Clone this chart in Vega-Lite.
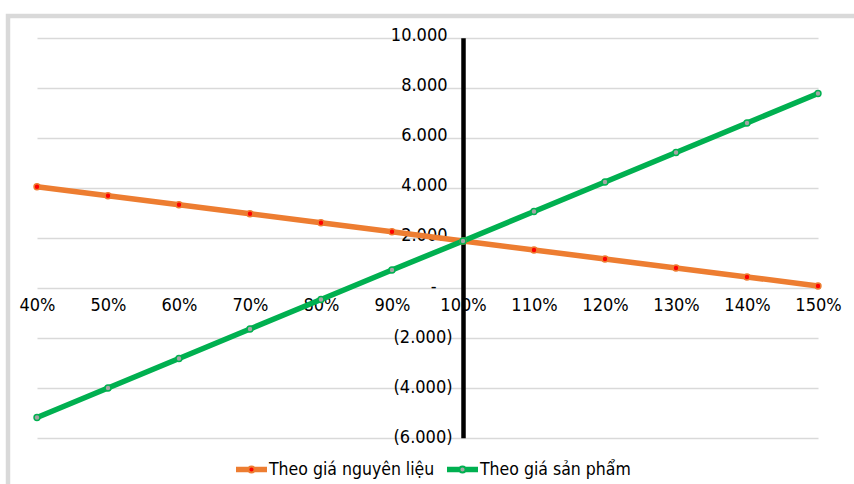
{
  "$schema": "https://vega.github.io/schema/vega-lite/v6.json",
  "width": 846,
  "height": 468,
  "autosize": {"type": "none"},
  "padding": {"left": 8, "top": 16, "right": 0, "bottom": 0},
  "background": "white",
  "config": {
    "font": "DejaVu Sans Condensed",
    "view": {"stroke": "#d9d9d9", "strokeWidth": 4.5, "strokeDash": [846, 1314, 468], "strokeCap": "square"},
    "axis": {
      "labelFont": "DejaVu Sans Condensed",
      "labelFontSize": 18,
      "labelColor": "#000000",
      "labelFlush": false,
      "labelOverlap": false,
      "ticks": false,
      "title": null,
      "gridColor": "#d9d9d9",
      "gridWidth": 1.5
    }
  },
  "data": {
    "values": [
      {"muc": 40, "series": "Theo giá nguyên liệu", "value": 4040},
      {"muc": 50, "series": "Theo giá nguyên liệu", "value": 3680},
      {"muc": 60, "series": "Theo giá nguyên liệu", "value": 3320},
      {"muc": 70, "series": "Theo giá nguyên liệu", "value": 2960},
      {"muc": 80, "series": "Theo giá nguyên liệu", "value": 2600},
      {"muc": 90, "series": "Theo giá nguyên liệu", "value": 2240},
      {"muc": 100, "series": "Theo giá nguyên liệu", "value": 1870},
      {"muc": 110, "series": "Theo giá nguyên liệu", "value": 1510},
      {"muc": 120, "series": "Theo giá nguyên liệu", "value": 1150},
      {"muc": 130, "series": "Theo giá nguyên liệu", "value": 790},
      {"muc": 140, "series": "Theo giá nguyên liệu", "value": 430},
      {"muc": 150, "series": "Theo giá nguyên liệu", "value": 70},
      {"muc": 40, "series": "Theo giá sản phẩm", "value": -5190},
      {"muc": 50, "series": "Theo giá sản phẩm", "value": -4010},
      {"muc": 60, "series": "Theo giá sản phẩm", "value": -2830},
      {"muc": 70, "series": "Theo giá sản phẩm", "value": -1650},
      {"muc": 80, "series": "Theo giá sản phẩm", "value": -470},
      {"muc": 90, "series": "Theo giá sản phẩm", "value": 710},
      {"muc": 100, "series": "Theo giá sản phẩm", "value": 1870},
      {"muc": 110, "series": "Theo giá sản phẩm", "value": 3050},
      {"muc": 120, "series": "Theo giá sản phẩm", "value": 4230},
      {"muc": 130, "series": "Theo giá sản phẩm", "value": 5410},
      {"muc": 140, "series": "Theo giá sản phẩm", "value": 6590},
      {"muc": 150, "series": "Theo giá sản phẩm", "value": 7770}
    ]
  },
  "encoding": {
    "x": {
      "field": "muc",
      "type": "quantitative",
      "scale": {"domain": [40, 150], "range": [29, 810], "nice": false, "zero": false},
      "axis": {
        "orient": "bottom",
        "offset": -196.3,
        "values": [40, 50, 60, 70, 80, 90, 100, 110, 120, 130, 140, 150],
        "labelExpr": "datum.value + '%'",
        "domain": false,
        "grid": false,
        "labelPadding": 9
      }
    }
  },
  "resolve": {"axis": {"y": "independent"}},
  "layer": [
    {
      "mark": {"type": "line", "strokeWidth": 5.5},
      "encoding": {
        "y": {
          "field": "value",
          "type": "quantitative",
          "scale": {"domain": [-6000, 10000], "range": [421.7, 21.7], "nice": false, "zero": false},
          "axis": {
            "orient": "left",
            "offset": -455,
            "values": [2000, 4000, 6000, 8000, 10000],
            "labelExpr": "replace(format(datum.value, ','), ',', '.')",
            "domain": true,
            "domainColor": "#000000",
            "domainWidth": 4.5,
            "grid": true,
            "labelPadding": 16,
            "labelOffset": -2
          }
        },
        "color": {
          "field": "series",
          "type": "nominal",
          "scale": {"domain": ["Theo giá nguyên liệu", "Theo giá sản phẩm"], "range": ["#ED7D31", "#00B050"]},
          "legend": {
            "title": null,
            "orient": "none",
            "legendX": 227,
            "legendY": 437,
            "direction": "horizontal",
            "padding": 0,
            "symbolType": "M-1,-0.12H-0.2M-1,-0.06H-0.2M-1,0H-0.2M-1,0.06H-0.2M-1,0.12H-0.2M0.2,-0.12H1M0.2,-0.06H1M0.2,0H1M0.2,0.06H1M0.2,0.12H1M0.2,0A0.2,0.2,0,1,1,-0.2,0A0.2,0.2,0,1,1,0.2,0Z",
            "symbolSize": 961,
            "symbolStrokeWidth": 2,
            "labelFont": "DejaVu Sans Condensed",
            "labelFontSize": 17.5,
            "labelLimit": 400,
            "labelColor": "#000000",
            "labelOffset": 1,
            "columnPadding": 8,
            "encode": {
              "symbols": {
                "update": {
                  "fill": {"signal": "datum.value === 'Theo giá nguyên liệu' ? '#FF0000' : '#A5A5A5'"},
                  "fillOpacity": {"value": 1}
                }
              }
            }
          }
        }
      }
    },
    {
      "transform": [{"filter": "datum.series === 'Theo giá nguyên liệu'"}],
      "mark": {"type": "point", "filled": true, "size": 35, "strokeWidth": 1.5, "opacity": 1, "fill": "#FF0000", "stroke": "#ED7D31"},
      "encoding": {
        "y": {
          "field": "value",
          "type": "quantitative",
          "scale": {"domain": [-6000, 10000], "range": [421.7, 21.7], "nice": false, "zero": false},
          "axis": {
            "orient": "left",
            "offset": -455,
            "values": [-6000, -4000, -2000],
            "labelExpr": "'(' + replace(format(-datum.value, ','), ',', '.') + ')'",
            "domain": false,
            "grid": true,
            "labelPadding": 11,
            "labelOffset": -0.5
          }
        }
      }
    },
    {
      "transform": [{"filter": "datum.series === 'Theo giá sản phẩm'"}],
      "mark": {"type": "point", "filled": true, "size": 35, "strokeWidth": 1.5, "opacity": 1, "fill": "#A5A5A5", "stroke": "#00B050"},
      "encoding": {
        "y": {
          "field": "value",
          "type": "quantitative",
          "scale": {"domain": [-6000, 10000], "range": [421.7, 21.7], "nice": false, "zero": false},
          "axis": {
            "orient": "left",
            "offset": -455,
            "values": [0],
            "labelExpr": "'-'",
            "domain": false,
            "grid": true,
            "labelPadding": 27,
            "labelOffset": -1
          }
        }
      }
    }
  ]
}
